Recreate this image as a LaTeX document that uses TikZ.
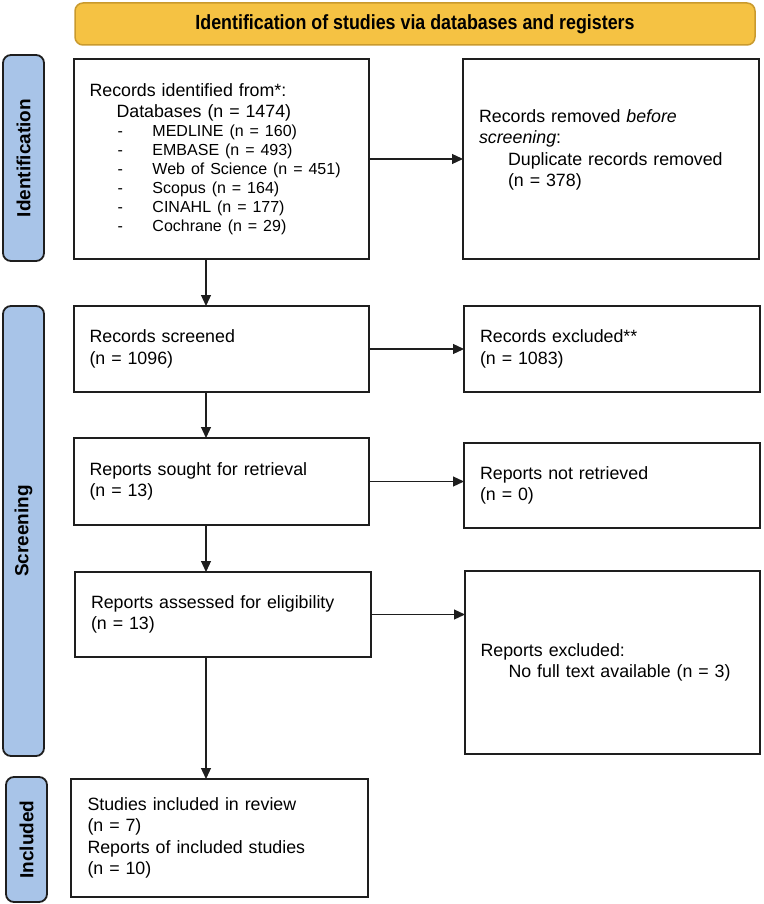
\documentclass[tikz,border=0pt]{standalone}
\usepackage{fontspec}
\setmainfont{Liberation Sans}
\newfontfamily\bannerfont[FakeStretch=0.87]{Liberation Sans}
\usetikzlibrary{arrows.meta}
\definecolor{bannerfill}{HTML}{F5C243}
\definecolor{bannerline}{HTML}{C99A2E}
\definecolor{barfill}{HTML}{A8C4E8}
\definecolor{ink}{HTML}{1E1E1E}
\begin{document}
\begin{tikzpicture}[x=1pt,y=-1pt,
  box/.style={draw=ink, line width=1.8pt, rectangle, anchor=north west, outer sep=0pt,
    inner xsep=15.5pt, inner ysep=0pt, align=left, text width=264pt,
    font=\fontsize{17.8}{21.5}\selectfont},
  sidebar/.style={draw=ink, line width=1.8pt, fill=barfill, rounded corners=8pt, rotate=90,
    inner sep=0pt, minimum height=41pt, font=\fontsize{19}{19}\selectfont\bfseries},
  banner/.style={draw=bannerline, line width=1.5pt, fill=bannerfill, rounded corners=8pt,
    inner sep=0pt, font=\bannerfont\fontsize{20.5}{20.5}\selectfont\bfseries},
  arr/.style={draw=ink, line width=1.2pt, -{Triangle[length=11pt,width=10pt]}}
]
\useasboundingbox (0,0) rectangle (763,904);

% banner
\node[banner, minimum width=680pt, minimum height=42pt] (top) at (415,24)
  {Identification of studies via databases and registers};

% side bars
\node[sidebar, minimum width=206pt] (sIdent) at (23.5,158) {Identification};
\node[sidebar, minimum width=450pt] (sScreen) at (23.5,531) {Screening};
\node[sidebar, minimum width=125pt] (sIncl) at (26.5,839.5) {Included};

% boxes
\node[box, minimum width=295pt, minimum height=200pt, font=\fontsize{17.8}{19}\selectfont] (b1) at (74,59)
  {Records identified from*:\\[2pt]
   \hspace*{27pt}Databases (n = 1474)\\
   {\fontsize{16}{19}\selectfont\hspace*{28pt}\makebox[35pt][l]{-}MEDLINE (n = 160)}\\
   {\fontsize{16}{19}\selectfont\hspace*{28pt}\makebox[35pt][l]{-}EMBASE (n = 493)}\\
   {\fontsize{16}{19}\selectfont\hspace*{28pt}\makebox[35pt][l]{-}Web of Science (n = 451)}\\
   {\fontsize{16}{19}\selectfont\hspace*{28pt}\makebox[35pt][l]{-}Scopus (n = 164)}\\
   {\fontsize{16}{19}\selectfont\hspace*{28pt}\makebox[35pt][l]{-}CINAHL (n = 177)}\\
   {\fontsize{16}{19}\selectfont\hspace*{28pt}\makebox[35pt][l]{-}Cochrane (n = 29)}};

\node[box, minimum width=296pt, minimum height=200pt] (b2) at (463,59)
  {Records removed \textit{before}\\
   \textit{screening}:\\
   \hspace*{29pt}Duplicate records removed\\
   \hspace*{29pt}(n = 378)\\
   \mbox{}};

\node[box, minimum width=295pt, minimum height=86pt] (b3) at (74,306)
  {Records screened\\(n = 1096)};
\node[box, minimum width=296pt, minimum height=86pt] (b4) at (464,306)
  {Records excluded**\\(n = 1083)};

\node[box, minimum width=295pt, minimum height=87pt] (b5) at (74,438)
  {Reports sought for retrieval\\(n = 13)};
\node[box, minimum width=296pt, minimum height=85pt] (b6) at (464,443)
  {Reports not retrieved\\(n = 0)};

\node[box, minimum width=296pt, minimum height=85pt] (b7) at (75,572)
  {Reports assessed for eligibility\\(n = 13)};
\node[box, minimum width=295pt, minimum height=183pt] (b8) at (465,571)
  {Reports excluded:\\
   \hspace*{28pt}No full text available (n = 3)};

\node[box, minimum width=297pt, minimum height=118pt] (b9) at (71,779)
  {Studies included in review\\(n = 7)\\Reports of included studies\\(n = 10)};

% connectors
\coordinate (col) at (206,0);
\draw[arr] (b1.south -| col) -- (b3.north -| col);
\draw[arr] (b3.south -| col) -- (b5.north -| col);
\draw[arr] (b5.south -| col) -- (b7.north -| col);
\draw[arr] (b7.south -| col) -- (b9.north -| col);

\draw[arr] (b1.east) -- (b1.east -| b2.west);
\draw[arr] (b3.east) -- (b3.east -| b4.west);
\draw[arr] (b5.east) -- (b5.east -| b6.west);
\draw[arr] (b7.east) -- (b7.east -| b8.west);
\end{tikzpicture}
\end{document}
